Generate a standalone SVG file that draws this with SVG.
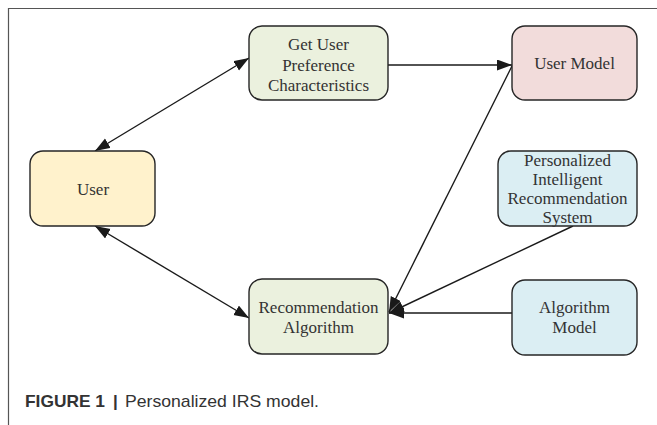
<svg xmlns="http://www.w3.org/2000/svg" width="657" height="425" viewBox="0 0 657 425">
<style>
.node rect{stroke:#262626;stroke-width:1.4}
.lbl{font-family:"Liberation Serif","Times New Roman",serif;font-size:17px;fill:#333;text-anchor:middle}
.edge{stroke:#1a1a1a;stroke-width:1.4;fill:none}
.cap{font-family:"Liberation Sans",Arial,sans-serif;font-size:17px;fill:#333}
</style>
<defs>
<marker id="ah" markerUnits="userSpaceOnUse" markerWidth="16" markerHeight="12" refX="15" refY="5.5" orient="auto-start-reverse" viewBox="0 0 16 12">
<path d="M0,0 L15,5.5 L0,11 Z" fill="#1a1a1a"/>
</marker>
</defs>
<rect width="657" height="425" fill="#fff"/>
<path d="M8.5,425 V8.5 H657" stroke="#555" stroke-width="1.2" fill="none"/>

<g id="connectors">
<line class="edge" x1="95" y1="151" x2="249" y2="58" marker-start="url(#ah)" marker-end="url(#ah)"/>
<line class="edge" x1="95" y1="226" x2="249" y2="318" marker-start="url(#ah)" marker-end="url(#ah)"/>
<line class="edge" x1="388" y1="65" x2="512" y2="65" marker-end="url(#ah)"/>
<line class="edge" x1="512" y1="66" x2="389" y2="312" marker-end="url(#ah)"/>
<line class="edge" x1="573" y1="226" x2="389" y2="313" marker-end="url(#ah)"/>
<line class="edge" x1="512" y1="313" x2="389" y2="313" marker-end="url(#ah)"/>
</g>

<g id="node-user" class="node">
<rect x="30" y="151" width="125" height="75" rx="13" fill="#fff2cc"/>
<text class="lbl" x="93" y="195">User</text>
</g>
<g id="node-getpref" class="node">
<rect x="249" y="26" width="139" height="74" rx="13" fill="#ebf1de"/>
<text class="lbl" x="318.5" y="50">Get User</text>
<text class="lbl" x="318.5" y="70.5">Preference</text>
<text class="lbl" x="318.5" y="91">Characteristics</text>
</g>
<g id="node-usermodel" class="node">
<rect x="512" y="26" width="125" height="74" rx="13" fill="#f2dcdb"/>
<text class="lbl" x="574.5" y="68.5">User Model</text>
</g>
<g id="node-pirs" class="node">
<rect x="498" y="151" width="139" height="75" rx="13" fill="#dbeef3"/>
<text class="lbl" x="567.5" y="165.5">Personalized</text>
<text class="lbl" x="567.5" y="184.5">Intelligent</text>
<text class="lbl" x="567.5" y="203.5">Recommendation</text>
<text class="lbl" x="567.5" y="222.5">System</text>
</g>
<g id="node-recalg" class="node">
<rect x="249" y="279" width="139" height="75" rx="13" fill="#ebf1de"/>
<text class="lbl" x="318.5" y="313">Recommendation</text>
<text class="lbl" x="318.5" y="333">Algorithm</text>
</g>
<g id="node-algmodel" class="node">
<rect x="512" y="280" width="125" height="75" rx="13" fill="#dbeef3"/>
<text class="lbl" x="574.5" y="313">Algorithm</text>
<text class="lbl" x="574.5" y="333">Model</text>
</g>

<g id="caption">
<text class="cap" x="25" y="407" font-weight="bold" textLength="80" lengthAdjust="spacingAndGlyphs">FIGURE 1</text>
<text class="cap" x="113" y="407" font-weight="bold">|</text>
<text class="cap" x="125" y="407" textLength="194" lengthAdjust="spacingAndGlyphs">Personalized IRS model.</text>
</g>
</svg>
